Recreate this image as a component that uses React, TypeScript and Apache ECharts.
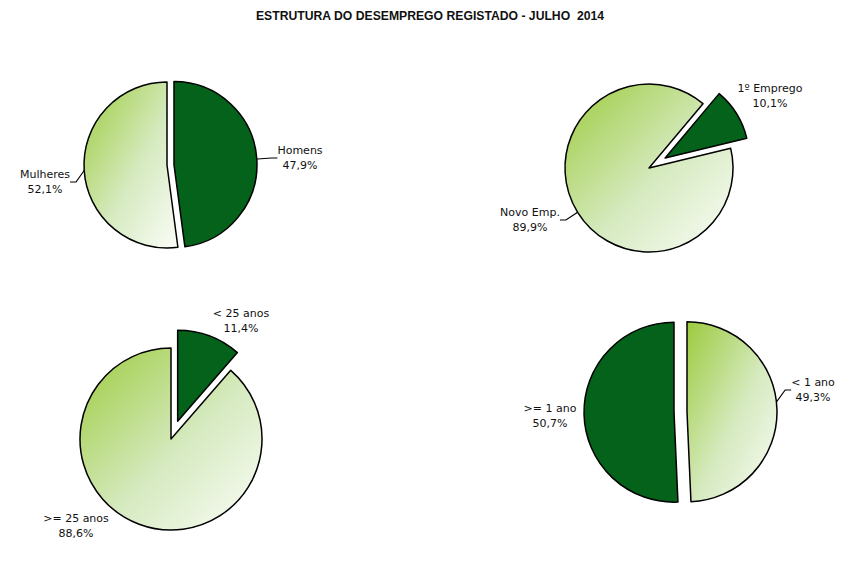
import React, { useEffect, useRef } from "react";
import * as echarts from "echarts";

const titleText = "ESTRUTURA DO DESEMPREGO REGISTADO - JULHO  2014";

const sexoNames = ["Homens", "Mulheres"];
const sexoValues = [47.9, 52.1];

const empregoNames = ["1º Emprego", "Novo Emp."];
const empregoValues = [10.1, 89.9];

const idadeNames = ["< 25 anos", ">= 25 anos"];
const idadeValues = [11.4, 88.6];

const duracaoNames = ["< 1 ano", ">= 1 ano"];
const duracaoValues = [49.3, 50.7];

const DARK = "#05621a";
const lightGradient = () =>
  new echarts.graphic.LinearGradient(0, 0, 1, 1, [
    { offset: 0, color: "#9ccb3e" },
    { offset: 0.55, color: "#d6eac0" },
    { offset: 1, color: "#fbfdf8" },
  ]);

type PieCfg = {
  names: string[];
  values: number[];
  dark: boolean[];
  selected: boolean[];
  line: boolean[];
  center: [number, number];
  radius: number;
  offset: number;
  startAngle: number;
  labelPos: [number, number][];
};

const pies: PieCfg[] = [
  {
    names: sexoNames,
    values: sexoValues,
    dark: [true, false],
    selected: [true, false],
    line: [true, true],
    center: [167, 165],
    radius: 83,
    offset: 7,
    startAngle: 90,
    labelPos: [
      [300, 158],
      [45, 182],
    ],
  },
  {
    names: empregoNames,
    values: empregoValues,
    dark: [true, false],
    selected: [true, false],
    line: [false, true],
    center: [649, 168],
    radius: 84,
    offset: 19,
    startAngle: 50,
    labelPos: [
      [770, 96],
      [530, 220],
    ],
  },
  {
    names: idadeNames,
    values: idadeValues,
    dark: [true, false],
    selected: [true, false],
    line: [false, false],
    center: [171, 439],
    radius: 91,
    offset: 19,
    startAngle: 90,
    labelPos: [
      [241, 321],
      [76, 526],
    ],
  },
  {
    names: duracaoNames,
    values: duracaoValues,
    dark: [false, true],
    selected: [true, true],
    line: [true, false],
    center: [680.5, 412],
    radius: 90,
    offset: 6.5,
    startAngle: 90,
    labelPos: [
      [813, 390],
      [550, 416],
    ],
  },
];

const fmt = (v: number) => v.toFixed(1).replace(".", ",") + "%";

export default function App() {
  const ref = useRef<HTMLDivElement>(null);
  useEffect(() => {
    if (!ref.current) return;
    const chart = echarts.init(ref.current, undefined, { renderer: "svg" });
    const series: any[] = [];
    pies.forEach((p) => {
      // visible pie with exploded slices
      series.push({
        type: "pie",
        center: p.center,
        radius: p.radius,
        startAngle: p.startAngle,
        clockwise: true,
        selectedMode: "multiple",
        selectedOffset: p.offset,
        emphasis: { disabled: true },
        label: { show: false },
        labelLine: { show: false },
        data: p.names.map((n, i) => {
          const style = {
            color: p.dark[i] ? DARK : lightGradient(),
            borderColor: "#000",
            borderWidth: 1.5,
          };
          return {
            name: n,
            value: p.values[i],
            selected: p.selected[i],
            itemStyle: style,
            select: { itemStyle: style },
          };
        }),
      });
      // transparent overlay carrying the labels
      series.push({
        type: "pie",
        silent: true,
        center: p.center,
        radius: p.radius,
        startAngle: p.startAngle,
        clockwise: true,
        selectedMode: false,
        avoidLabelOverlap: false,
        emphasis: { disabled: true },
        itemStyle: { color: "rgba(0,0,0,0)", borderWidth: 0 },
        label: {
          show: true,
          position: "outside",
          formatter: (prm: any) => prm.name + "\n" + fmt(prm.value),
          fontFamily: "DejaVu Sans",
          fontSize: 11,
          lineHeight: 15,
          color: "#111",
          align: "center",
        },
        labelLine: {
          show: true,
          length: 6,
          length2: 6,
          smooth: false,
          lineStyle: { color: "#000", width: 1.2 },
        },
        labelLayout: (prm: any) => {
          const pos = p.labelPos[prm.dataIndex];
          return {
            x: pos[0],
            y: pos[1],
            align: "center",
            verticalAlign: "middle",
          };
        },
        data: p.names.map((n, i) => ({
          name: n,
          value: p.values[i],
          labelLine: { show: p.line[i] },
        })),
      });
    });
    chart.setOption({
      animation: false,
      backgroundColor: "#fff",
      graphic: [
        {
          type: "text",
          x: 430,
          y: 16,
          style: {
            text: titleText,
            fontFamily: "'Liberation Sans', Arial, sans-serif",
            fontWeight: "bold",
            fontSize: 12.2,
            fill: "#111",
            textAlign: "center",
            textVerticalAlign: "middle",
          },
        },
      ],
      series,
    });
    return () => chart.dispose();
  }, []);
  return (
    <div
      ref={ref}
      style={{ position: "fixed", left: 0, top: 0, width: 851, height: 562 }}
    />
  );
}
